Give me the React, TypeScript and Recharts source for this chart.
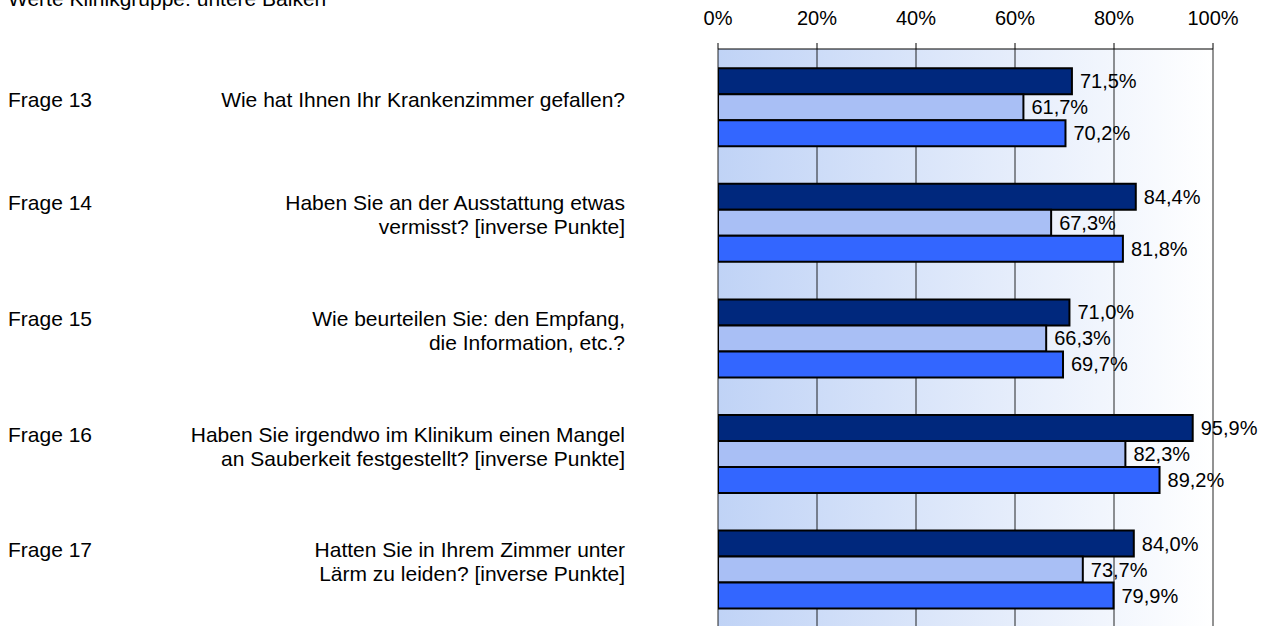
import React from 'react';
import {
  BarChart,
  Bar,
  XAxis,
  YAxis,
  CartesianGrid,
  LabelList,
} from 'recharts';

const frageLabels = ['Frage 13', 'Frage 14', 'Frage 15', 'Frage 16', 'Frage 17'];
const questionLines = [
  ['Wie hat Ihnen Ihr Krankenzimmer gefallen?'],
  ['Haben Sie an der Ausstattung etwas', 'vermisst? [inverse Punkte]'],
  ['Wie beurteilen Sie: den Empfang,', 'die Information, etc.?'],
  ['Haben Sie irgendwo im Klinikum einen Mangel', 'an Sauberkeit festgestellt? [inverse Punkte]'],
  ['Hatten Sie in Ihrem Zimmer unter', 'Lärm zu leiden? [inverse Punkte]'],
];
// obere, mittlere, untere Balken (untere = Klinikgruppe)
const obereWerte = [71.5, 84.4, 71.0, 95.9, 84.0];
const mittlereWerte = [61.7, 67.3, 66.3, 82.3, 73.7];
const untereWerte = [70.2, 81.8, 69.7, 89.2, 79.9];
const xTicks = [0, 20, 40, 60, 80, 100];

const data = frageLabels.map((frage, i) => ({
  frage,
  oben: obereWerte[i],
  mitte: mittlereWerte[i],
  unten: untereWerte[i],
}));

const FONT = '"Liberation Sans", Arial, sans-serif';

const fmtPct = (v: any) => `${Number(v).toFixed(1).replace('.', ',')}%`;

const LeftTick = (props: any) => {
  const { y, payload, index } = props;
  const lines = questionLines[index] || [];
  const first = lines.length > 1 ? y - 12 : y;
  return (
    <g fontFamily={FONT} fontSize={21} fill="#000">
      <text x={8} y={first} textAnchor="start" fill="#000">
        {payload.value}
      </text>
      {lines.map((l: string, k: number) => (
        <text key={k} x={625} y={first + k * 24} textAnchor="end" fill="#000">
          {l}
        </text>
      ))}
    </g>
  );
};

const App: React.FC = () => {
  return (
    <div style={{ position: 'absolute', left: 0, top: 0, width: 1272, height: 626, background: '#fff', overflow: 'hidden' }}>
      <svg width={600} height={20} style={{ position: 'absolute', left: 0, top: 0 }}>
        <text x={8} y={6} fontFamily={FONT} fontSize={21} fill="#000">
          Werte Klinikgruppe: untere Balken
        </text>
      </svg>
      <BarChart
        width={1272}
        height={627}
        data={data}
        layout="vertical"
        margin={{ top: 0, right: 59, bottom: 0, left: 18 }}
        barGap={0}
        barCategoryGap="16.6%"
      >
        <defs>
          <linearGradient id="bgGrad" x1="0" y1="0" x2="1" y2="0">
            <stop offset="0%" stopColor="#C0D3F6" />
            <stop offset="100%" stopColor="#FFFFFF" />
          </linearGradient>
        </defs>
        <CartesianGrid
          horizontal={false}
          vertical
          stroke="#000"
          strokeOpacity={0.85}
          fill="url(#bgGrad)"
          fillOpacity={1}
        />
        <XAxis
          type="number"
          orientation="top"
          domain={[0, 100]}
          ticks={xTicks}
          tickFormatter={(v) => `${v}%`}
          height={49}
          tickSize={6}
          tickMargin={18}
          axisLine={{ stroke: '#000' }}
          tickLine={{ stroke: '#000' }}
          tick={{ fill: '#000', fontSize: 20, fontFamily: FONT }}
          allowDataOverflow
        />
        <YAxis
          type="category"
          dataKey="frage"
          width={700}
          axisLine={false}
          tickLine={false}
          tick={<LeftTick />}
          interval={0}
        />
        <Bar dataKey="oben" fill="#00287D" stroke="#000" strokeWidth={2} isAnimationActive={false}>
          <LabelList dataKey="oben" position="right" offset={8} formatter={fmtPct} fill="#000" fontSize={20} fontFamily={FONT} />
        </Bar>
        <Bar dataKey="mitte" fill="#A9BFF5" stroke="#000" strokeWidth={2} isAnimationActive={false}>
          <LabelList dataKey="mitte" position="right" offset={8} formatter={fmtPct} fill="#000" fontSize={20} fontFamily={FONT} />
        </Bar>
        <Bar dataKey="unten" fill="#3366FF" stroke="#000" strokeWidth={2} isAnimationActive={false}>
          <LabelList dataKey="unten" position="right" offset={8} formatter={fmtPct} fill="#000" fontSize={20} fontFamily={FONT} />
        </Bar>
      </BarChart>
    </div>
  );
};

export default App;
